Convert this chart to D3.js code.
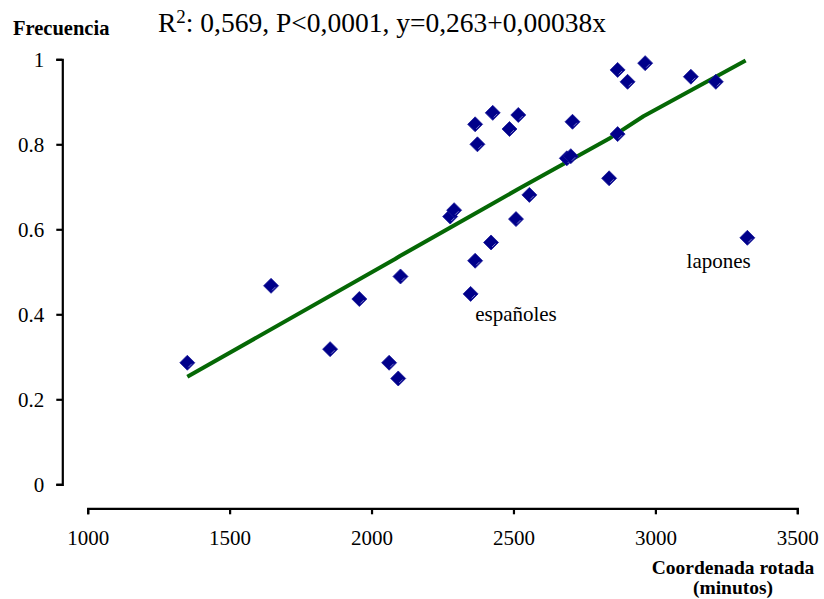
<!DOCTYPE html>
<html>
<head>
<meta charset="utf-8">
<script src="https://cdn.jsdelivr.net/npm/d3@7"></script>
<style>
  html, body { margin: 0; padding: 0; background: #fff; }
  svg { display: block; }
  text { font-family: "Liberation Serif", "Times New Roman", serif; fill: #000; }
</style>
</head>
<body>
<script>
// ---- data ----
const pointX = [1351, 1646, 1854, 1957, 2062, 2094, 2102, 2277, 2291, 2349,
                2365, 2365, 2373, 2421, 2427, 2486, 2509, 2517, 2556, 2688,
                2702, 2708, 2837, 2867, 2867, 2902, 2964, 3125, 3213, 3324];
const pointY = [0.286, 0.467, 0.318, 0.436, 0.286, 0.249, 0.489, 0.630, 0.645, 0.448,
                0.526, 0.847, 0.800, 0.569, 0.874, 0.836, 0.624, 0.869, 0.681, 0.767,
                0.772, 0.853, 0.720, 0.824, 0.975, 0.947, 0.991, 0.959, 0.947, 0.580];
const fitX = [1351, 2083, 2100, 2418, 2517, 2841, 2958, 3318];
const fitY = [0.253, 0.530, 0.537, 0.657, 0.695, 0.815, 0.866, 0.997];
const xTicks = [1000, 1500, 2000, 2500, 3000, 3500];
const yTicks = [0, 0.2, 0.4, 0.6, 0.8, 1];
const yTickLabels = ["0", "0.2", "0.4", "0.6", "0.8", "1"];
const titleMain = "R";
const titleSup = "2";
const titleRest = ": 0,569, P<0,0001, y=0,263+0,00038x";
const yTitle = "Frecuencia";
const xTitle = ["Coordenada rotada", "(minutos)"];
const annotations = [
  {text: "españoles", x: 2365, y: 0.384},
  {text: "lapones", x: 3110, y: 0.509}
];

// ---- chart ----
const W = 824, H = 599;
const svg = d3.select("body").append("svg").attr("width", W).attr("height", H);

const x = d3.scaleLinear().domain([1000, 3500]).range([87.7, 797.3]);
const y = d3.scaleLinear().domain([0, 1]).range([484.3, 59.3]);

// y axis
const yAxis = d3.axisLeft(y).tickValues(yTicks)
  .tickFormat((d, i) => yTickLabels[i]).tickSize(6).tickSizeOuter(6);
const gy = svg.append("g").attr("transform", "translate(62.3,0)").call(yAxis);
gy.selectAll("path, line").attr("stroke", "#000").attr("stroke-width", 2.2);
gy.selectAll("text").attr("font-size", 21).attr("x", -18);

// x axis
const xAxis = d3.axisBottom(x).tickValues(xTicks).tickFormat(d3.format("d"))
  .tickSize(6).tickSizeOuter(6);
const gx = svg.append("g").attr("transform", "translate(0,508.3)").call(xAxis);
gx.selectAll("path, line").attr("stroke", "#000").attr("stroke-width", 2.2);
gx.selectAll("text").attr("font-size", 21).attr("y", 22);

// fitted line
const fit = fitX.map((v, i) => [v, fitY[i]]);
svg.append("path")
  .datum(fit)
  .attr("fill", "none")
  .attr("stroke", "#056805")
  .attr("stroke-width", 4)
  .attr("stroke-linejoin", "round")
  .attr("d", d3.line().x(d => x(d[0])).y(d => y(d[1])));

// points
const pts = pointX.map((v, i) => [v, pointY[i]]);
const r = 7.5;
const g = svg.append("g");
pts.forEach(d => {
  const cx = x(d[0]), cy = y(d[1]);
  g.append("path")
    .attr("d", `M${cx},${cy - r}L${cx + r},${cy}L${cx},${cy + r}L${cx - r},${cy}Z`)
    .attr("fill", "#00008a")
    .attr("stroke", "#1a1a9a")
    .attr("stroke-width", 0.8);
  g.append("path")
    .attr("d", `M${cx + 1},${cy + r - 3}L${cx + r - 3},${cy + 1}`)
    .attr("stroke", "#8f8fd0")
    .attr("stroke-width", 0.8);
});

// annotations
annotations.forEach(a => {
  svg.append("text").attr("x", x(a.x)).attr("y", y(a.y))
    .attr("font-size", 21).text(a.text);
});

// title
const t = svg.append("text").attr("x", 158).attr("y", 32).attr("font-size", 27.5);
t.append("tspan").text(titleMain);
t.append("tspan").attr("font-size", 19).attr("dy", -9).text(titleSup);
t.append("tspan").attr("dy", 9).text(titleRest);

// y title
svg.append("text").attr("x", 13).attr("y", 35)
  .attr("font-size", 20.5).attr("font-weight", "bold").text(yTitle);

// x title
svg.append("text").attr("x", 733).attr("y", 574).attr("text-anchor", "middle")
  .attr("font-size", 19.5).attr("font-weight", "bold").text(xTitle[0]);
svg.append("text").attr("x", 733).attr("y", 594).attr("text-anchor", "middle")
  .attr("font-size", 19.5).attr("font-weight", "bold").text(xTitle[1]);
</script>
</body>
</html>
